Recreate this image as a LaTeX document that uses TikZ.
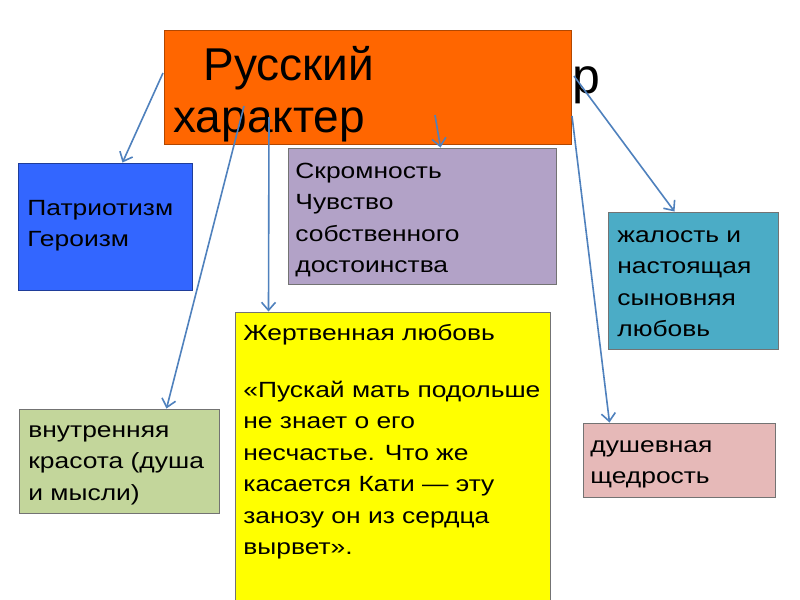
\documentclass[tikz,border=0pt]{standalone}
\usepackage{fontspec}
\setmainfont{Liberation Sans}[FakeStretch=1.2]
\newfontfamily\titlefont{Liberation Sans}
\usetikzlibrary{arrows.meta,fit,calc}
\definecolor{orangebox}{RGB}{255,102,0}
\definecolor{bluebox}{RGB}{51,102,255}
\definecolor{purplebox}{RGB}{178,162,199}
\definecolor{tealbox}{RGB}{75,172,198}
\definecolor{greenbox}{RGB}{195,214,155}
\definecolor{pinkbox}{RGB}{230,185,184}
\definecolor{yellowbox}{RGB}{255,255,0}
\definecolor{arrowblue}{RGB}{79,129,189}
\begin{document}
\begin{tikzpicture}[x=0.5pt,y=-0.5pt,
  box/.style={draw=black!55, line width=0.5pt, inner sep=0pt},
  txt/.style={anchor=base west, inner sep=0pt, font=\fontsize{11}{15.75}\selectfont},
  ttl/.style={anchor=base west, inner sep=0pt, font=\titlefont\fontsize{23}{26}\selectfont},
  arr/.style={draw=arrowblue, line width=0.8pt, -{Straight Barb[length=4pt,width=7pt]}}]
\useasboundingbox (0,0) rectangle (800,600);
\fill[white] (0,0) rectangle (800,600);

% background letter
\node[ttl, font=\titlefont\fontsize{25}{28}\selectfont] (rr) at (572,93) {р};

% boxes
\node[box, fill=orangebox, draw=orangebox!70!black, fit={(164,30) (571,144)}] (orange) {};
\node[box, fill=bluebox, draw=bluebox!60!black, fit={(18,163) (192,290)}] (blue) {};
\node[box, fill=purplebox, fit={(288,148) (556,284)}] (purple) {};
\node[box, fill=tealbox, fit={(608,212) (778,349)}] (teal) {};
\node[box, fill=greenbox, fit={(19,409) (219,513)}] (green) {};
\node[box, fill=yellowbox, fit={(235,312) (550,603)}] (yel) {};
\node[box, fill=pinkbox, fit={(583,423) (775,497)}] (pink) {};

% texts
\node[ttl] (title) at (173,80) {\begin{tabular}[t]{@{}l@{}}\hspace*{15pt}Русский\\характер\end{tabular}};
\node[txt] (tblue) at (27,215) {\begin{tabular}[t]{@{}l@{}}Патриотизм\\Героизм\end{tabular}};
\node[txt] (tpurple) at (295,178) {\begin{tabular}[t]{@{}l@{}}Скромность\\Чувство\\собственного\\достоинства\end{tabular}};
\node[txt] (tteal) at (617,242) {\begin{tabular}[t]{@{}l@{}}жалость и\\настоящая\\сыновняя\\любовь\end{tabular}};
\node[txt] (tgreen) at (28,437) {\begin{tabular}[t]{@{}l@{}}внутренняя\\красота (душа\\и мысли)\end{tabular}};
\node[txt] (tyel) at (243,340) {\begin{tabular}[t]{@{}l@{}}Жертвенная любовь\\[12.75pt]«Пускай мать подольше\\не знает о его\\несчастье. Что же\\касается Кати — эту\\занозу он из сердца\\вырвет».\end{tabular}};
\node[txt] (tpink) at (590,452) {\begin{tabular}[t]{@{}l@{}}душевная\\щедрость\end{tabular}};

% arrow start points
\coordinate (s1) at (163,73);
\coordinate (s2) at (244,106);
\coordinate (s3) at (269,117);
\coordinate (s4) at (435,115);
\coordinate (s5) at (574,76);
\coordinate (s6) at (572,116);

\draw[arr] (s1) -- ($(blue.north west)+(105,0)$);
\draw[arr] (s2) -- ($(green.north west)+(148,0)$);
\draw[arr] (s3) -- ($(yel.north west)+(34,0)$);
\draw[arr] (s4) -- ($(purple.north west)+(153,0)$);
\draw[arr] (s5) -- ($(teal.north west)+(67,0)$);
\draw[arr] (s6) -- ($(pink.north west)+(27,0)$);
\end{tikzpicture}
\end{document}
